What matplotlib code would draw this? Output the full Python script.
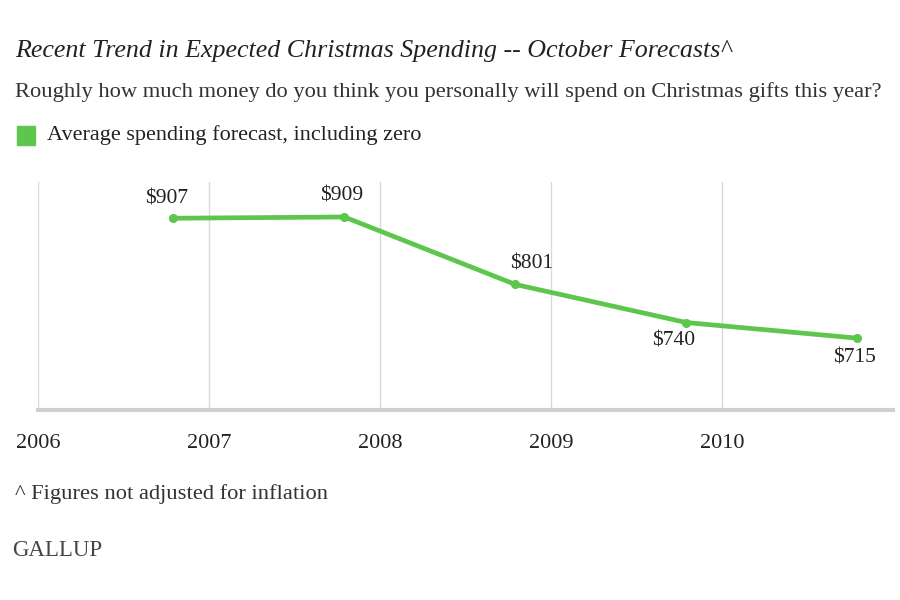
import matplotlib.pyplot as plt

years = [2006, 2007, 2008, 2009, 2010]
spending = [907, 909, 801, 740, 715]
labels = ["$907", "$909", "$801", "$740", "$715"]
# label offsets (points) relative to each point
offsets = [(-5, 14), (-2, 15), (12, 15), (-9, -13), (-2, -14)]
tick_years = [2006, 2007, 2008, 2009, 2010]

GREEN = "#5ec64c"
GRID = "#d9d9d9"
TEXT = "#222222"
SERIF = ["Liberation Serif", "DejaVu Serif"]

plt.rcParams["font.family"] = SERIF

fig = plt.figure(figsize=(9, 6), dpi=100)
ax = fig.add_axes([38 / 900, 1 - 410 / 600, 855 / 900, 228 / 600])

# October forecasts -> place each point at mid-October of its year
x = [y + 9.5 / 12 for y in years]
ax.plot(x, spending, color=GREEN, linewidth=3.4, marker="o", markersize=5.5,
        solid_joinstyle="round", zorder=3)

for xi, yi, lab, off in zip(x, spending, labels, offsets):
    ax.annotate(lab, (xi, yi), xytext=off, textcoords="offset points",
                ha="center", va="center", fontsize=15.5, color=TEXT)

ax.set_xlim(2006, 2011)
ax.set_ylim(600, 965)
ax.set_xticks(tick_years)
ax.set_xticklabels([str(t) for t in tick_years], fontsize=16, color=TEXT)
ax.set_yticks([])
ax.tick_params(axis="x", length=0, pad=17)
for xt in tick_years:
    ax.axvline(xt, color=GRID, linewidth=1, zorder=1)
for side in ("top", "right", "left"):
    ax.spines[side].set_visible(False)
ax.spines["bottom"].set_color("#d0d0d0")
ax.spines["bottom"].set_linewidth(3)

fig.text(15 / 900, 1 - 51 / 600,
         "Recent Trend in Expected Christmas Spending -- October Forecasts^",
         fontsize=18.7, style="italic", color=TEXT, va="center")
fig.text(15 / 900, 1 - 92 / 600,
         "Roughly how much money do you think you personally will spend on Christmas gifts this year?",
         fontsize=16.2, color="#333333", va="center")
fig.patches.append(plt.Rectangle((17 / 900, 1 - 145 / 600), 18 / 900, 19 / 600,
                                 transform=fig.transFigure, color=GREEN))
fig.text(47 / 900, 1 - 135 / 600, "Average spending forecast, including zero",
         fontsize=16, color=TEXT, va="center")
fig.text(15 / 900, 1 - 494 / 600, "^ Figures not adjusted for inflation",
         fontsize=16.2, color="#333333", va="center")
fig.text(12 / 900, 1 - 551 / 600, "GALLUP", fontsize=16.5, color="#444444",
         va="center")

fig.savefig("out.png", dpi=100, facecolor="white")
